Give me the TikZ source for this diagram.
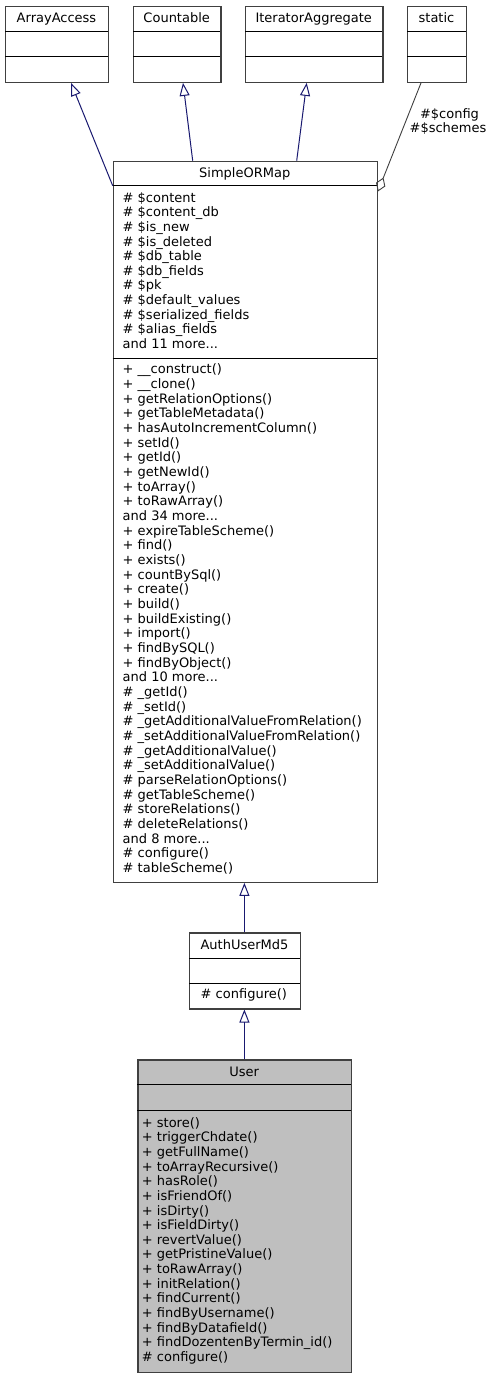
\documentclass[tikz,border=0pt]{standalone}
\usepackage{fontspec}
\setmainfont{DejaVu Sans}
\usetikzlibrary{arrows.meta}
\definecolor{edgeblue}{HTML}{191970}
\definecolor{boxgray}{HTML}{404040}
\definecolor{usegray}{HTML}{404040}
\definecolor{focusfill}{HTML}{BFBFBF}
\newcommand\tdots{...}
\begin{document}
\begin{tikzpicture}[x=1pt,y=-1pt,
  txt/.style={font=\fontsize{13}{14.6}\selectfont, inner sep=0pt, anchor=base west, text=black},
  ttl/.style={font=\fontsize{13}{14.6}\selectfont, inner sep=0pt, anchor=base, text=black},
  classbox/.style={draw=boxgray, line width=1.2pt, fill=white, anchor=north west, inner sep=0pt},
  focusbox/.style={classbox, fill=focusfill},
  sepline/.style={draw=black, line width=0.9pt},
  inherit/.style={draw=edgeblue, line width=1pt, -{Triangle[open, length=13pt, width=10pt, line width=1pt]}},
  uses/.style={draw=usegray, line width=0.9pt, -{Diamond[open, length=15pt, width=10pt, line width=0.9pt]}}]
\useasboundingbox (0,0) rectangle (491,1376);
\fill[white] (0,0) rectangle (491,1376);

% ---- top interface boxes
\node[classbox, minimum width=103, minimum height=76] (aa) at (5,5.7) {};
\draw[sepline] (5,31.7) -- (108,31.7);
\draw[sepline] (5,56.7) -- (108,56.7);
\node[ttl] (aaT) at (56.5,22.5) {ArrayAccess};

\node[classbox, minimum width=87.3, minimum height=76] (ct) at (133,5.7) {};
\draw[sepline] (133,31.7) -- (220.3,31.7);
\draw[sepline] (133,56.7) -- (220.3,56.7);
\node[ttl] (ctT) at (176.7,22.5) {Countable};

\node[classbox, minimum width=137.3, minimum height=76] (ia) at (245,5.7) {};
\draw[sepline] (245,31.7) -- (382.3,31.7);
\draw[sepline] (245,56.7) -- (382.3,56.7);
\node[ttl] (iaT) at (313.7,22.5) {IteratorAggregate};

\node[classbox, minimum width=59, minimum height=76] (st) at (407,5.7) {};
\draw[sepline] (407,31.7) -- (466,31.7);
\draw[sepline] (407,56.7) -- (466,56.7);
\node[ttl] (stT) at (436.5,22.5) {static};

% ---- SimpleORMap
\node[classbox, minimum width=264, minimum height=721] (sorm) at (112.7,160.7) {};
\draw[sepline] (112.7,185.7) -- (376.7,185.7);
\draw[sepline] (112.7,358.7) -- (376.7,358.7);
\node[ttl] (sormT) at (244.7,177.5) {SimpleORMap};
\foreach \t [count=\i from 0] in {
  \# \$content, \# \$content\_db, \# \$is\_new, \# \$is\_deleted, \# \$db\_table,
  \# \$db\_fields, \# \$pk, \# \$default\_values, \# \$serialized\_fields,
  \# \$alias\_fields, and 11 more\tdots}
  \node[txt] (sa\i) at (122.5,202.3+\i*14.6) {\t};
\foreach \t [count=\i from 0] in {
  + \_\_construct(), + \_\_clone(), + getRelationOptions(), + getTableMetadata(),
  + hasAutoIncrementColumn(), + setId(), + getId(), + getNewId(), + toArray(),
  + toRawArray(), and 34 more\tdots, + expireTableScheme(), + find(), + exists(),
  + countBySql(), + create(), + build(), + buildExisting(), + import(),
  + findBySQL(), + findByObject(), and 10 more\tdots, \# \_getId(), \# \_setId(),
  \# \_getAdditionalValueFromRelation(), \# \_setAdditionalValueFromRelation(),
  \# \_getAdditionalValue(), \# \_setAdditionalValue(), \# parseRelationOptions(),
  \# getTableScheme(), \# storeRelations(), \# deleteRelations(), and 8 more\tdots,
  \# configure(), \# tableScheme()}
  \node[txt] (sm\i) at (122.5,373.9+\i*14.66) {\t};

% ---- AuthUserMd5
\node[classbox, minimum width=111, minimum height=76] (au) at (189,932.3) {};
\draw[sepline] (189,958.3) -- (300,958.3);
\draw[sepline] (189,983.3) -- (300,983.3);
\node[ttl] (auT) at (244.5,949.1) {AuthUserMd5};
\node[txt] (au0) at (200.5,998.9) {\# configure()};

% ---- User
\node[focusbox, minimum width=213.7, minimum height=312.4] (us) at (137.3,1059.3) {};
\draw[sepline] (137.3,1084.3) -- (351,1084.3);
\draw[sepline] (137.3,1110) -- (351,1110);
\node[ttl] (usT) at (244.2,1076.1) {User};
\foreach \t [count=\i from 0] in {
  + store(), + triggerChdate(), + getFullName(), + toArrayRecursive(), + hasRole(),
  + isFriendOf(), + isDirty(), + isFieldDirty(), + revertValue(),
  + getPristineValue(), + toRawArray(), + initRelation(), + findCurrent(),
  + findByUsername(), + findByDatafield(), + findDozentenByTermin\_id(),
  \# configure()}
  \node[txt] (um\i) at (141.7,1127.3+\i*14.625) {\t};

% ---- connectors
\draw[inherit] (sorm.north west |- 0,185.7) -- (aa.south -| 71,0);
\draw[inherit] (sorm.north -| 192.7,0) -- (ct.south -| 183,0);
\draw[inherit] (sorm.north -| 296.7,0) -- (ia.south -| 306.7,0);
\draw[uses] (st.south -| 421,0) -- (sorm.east |- 0,191.5);
\node[ttl] (lbl1) at (449.5,118) {\#\$config};
\node[ttl] (lbl2) at (448,132.5) {\#\$schemes};
\draw[inherit] (au.north -| 244.4,0) -- (sorm.south -| 244.4,0);
\draw[inherit] (us.north -| 244.4,0) -- (au.south -| 244.4,0);
\end{tikzpicture}
\end{document}
